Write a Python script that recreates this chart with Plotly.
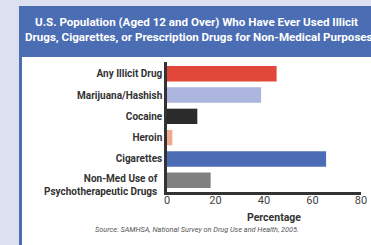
import plotly.graph_objects as go

categories = ["Any Illicit Drug", "Marijuana/Hashish", "Cocaine", "Heroin", "Cigarettes",
              "Non-Med Use of<br>Psychotherapeutic Drugs"]
values = [45.2, 38.8, 12.5, 2.2, 65.6, 18.0]
colors = ["#e2483a", "#abb5dd", "#2b2b2b", "#f4a98c", "#4c6db5", "#808080"]
x_ticks = [0, 20, 40, 60, 80]
title_lines = ["U.S. Population (Aged 12 and Over) Who Have Ever Used Illicit",
               "Drugs, Cigarettes, or Prescription Drugs for Non-Medical Purposes"]
x_title = "Percentage"
source = "Source: SAMHSA, National Survey on Drug Use and Health, 2005."

W, H = 371, 245
L, R, T, B = 167, 10, 62, 53
PW, PH = W - L - R, H - T - B

def px(x):
    return (x - L) / PW

def py(y):
    return 1 - (y - T) / PH

FONT = "Roboto, sans-serif"

fig = go.Figure(go.Bar(
    x=values, y=list(range(len(categories))), orientation="h",
    marker=dict(color=colors, line=dict(width=0)), width=0.72,
))

shapes = [
    dict(type="rect", xref="paper", yref="paper", x0=px(19), x1=px(380), y0=py(6), y1=py(250),
         fillcolor="#4a6db3", line=dict(width=0), layer="below"),
    dict(type="rect", xref="paper", yref="paper", x0=px(22), x1=px(380), y0=py(57), y1=py(250),
         fillcolor="#ffffff", line=dict(width=0), layer="below"),
]

# the two-line category label sits a little lower than the bar centre in the reference
ticktext = [c if "<br>" not in c else "" for c in categories]
annotations = [
    dict(text="<b>" + c + "</b>", xref="paper", yref="y", x=px(160), y=i, yshift=-5,
         xanchor="right", yanchor="middle", align="right", showarrow=False,
         font=dict(family=FONT, size=10, color="#333333"))
    for i, c in enumerate(categories) if "<br>" in c
]
annotations += [
    dict(text="<b>" + title_lines[0] + "</b>", xref="paper", yref="paper", x=px(33), y=py(22),
         xanchor="left", yanchor="middle", showarrow=False,
         font=dict(family=FONT, size=11.6, color="white")),
    dict(text="<b>" + title_lines[1] + "</b>", xref="paper", yref="paper", x=px(23), y=py(37),
         xanchor="left", yanchor="middle", showarrow=False,
         font=dict(family=FONT, size=11.6, color="white")),
    dict(text="<b>" + x_title + "</b>", xref="paper", yref="paper", x=px(274), y=py(217),
         xanchor="center", yanchor="middle", showarrow=False,
         font=dict(family=FONT, size=10.5, color="#333333")),
    dict(text="<i>" + source + "</i>", xref="paper", yref="paper", x=px(197), y=py(229),
         xanchor="center", yanchor="middle", showarrow=False,
         font=dict(family=FONT, size=7.3, color="#555555")),
]

fig.update_layout(
    width=W, height=H, margin=dict(l=L, r=R, t=T, b=B, pad=0),
    paper_bgcolor="#dde0f0", plot_bgcolor="rgba(0,0,0,0)",
    showlegend=False, shapes=shapes, annotations=annotations,
)
fig.update_xaxes(range=[0, 80], tickvals=x_ticks, showgrid=False, zeroline=False,
                 showline=True, linecolor="#333333", linewidth=2.5, ticks="", automargin=False,
                 ticklabelstandoff=-4,
                 tickfont=dict(family=FONT, size=11, color="#444444"))
fig.update_yaxes(range=[5.55, -0.55], tickvals=list(range(len(categories))), ticktext=ticktext,
                 showgrid=False, zeroline=False, showline=True, linecolor="#333333", linewidth=2.5,
                 ticks="", automargin=False,
                 tickfont=dict(family=FONT, size=10, color="#333333", weight="bold"))

fig.write_html("out.html", config={"displayModeBar": False},
               post_script="document.body.style.margin='0px';document.body.style.overflow='hidden';")
